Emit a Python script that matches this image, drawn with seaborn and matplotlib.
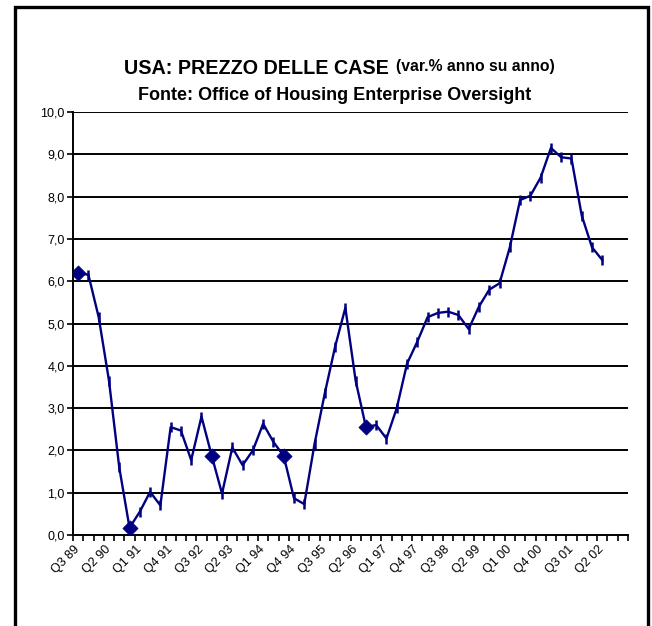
import numpy as np
import pandas as pd
import seaborn as sns
import matplotlib.pyplot as plt
from matplotlib.patches import Rectangle

# quarters from Q3 89 to Q4 02 (last two left empty, as in the original)
quarters = []
for yy in range(1989, 2003):
    for q in range(1, 5):
        if (yy == 1989 and q < 3):
            continue
        quarters.append(f"Q{q} {str(yy)[2:]}")

# y/y % change of house prices, Q3 89 -> Q2 02
values = [6.2, 6.15, 5.15, 3.65, 1.6, 0.17, 0.55, 1.02, 0.7, 2.55,
          2.47, 1.77, 2.8, 1.87, 0.98, 2.07, 1.65, 2.0, 2.63, 2.2,
          1.87, 0.87, 0.73, 2.15, 3.35, 4.45, 5.37, 3.65, 2.55, 2.6,
          2.28, 3.0, 4.05, 4.57, 5.15, 5.25, 5.28, 5.2, 4.87, 5.4,
          5.8, 5.95, 6.8, 7.92, 8.02, 8.45, 9.15, 8.93, 8.9, 7.55,
          6.8, 6.5]
diamond_idx = [0, 5, 13, 20, 28]

df = pd.DataFrame({"pos": np.arange(len(values)), "val": values,
                   "quarter": quarters[:len(values)]})
dia_df = df.iloc[diamond_idx]

navy = "#000080"
plt.rcParams['font.family'] = ['Liberation Sans', 'DejaVu Sans']

fig = plt.figure(figsize=(6.52, 6.26), dpi=100)
ax = fig.add_axes([73/652, 1 - 535/626, 555/652, 423/626])

sns.lineplot(data=df, x="pos", y="val", ax=ax, color=navy, linewidth=1.7,
             marker="|", markersize=7, markeredgewidth=1.8, markeredgecolor=navy)
sns.scatterplot(data=dia_df, x="pos", y="val", ax=ax, marker="D", s=60,
                color=navy, edgecolor=navy, linewidth=0.5, zorder=5)

n = len(quarters)
ax.set_xlim(-0.5, n - 0.5)
ax.set_ylim(0, 10)

yt = np.arange(0, 11)
ax.set_yticks(yt)
ax.set_yticklabels([f"{v:.1f}".replace(".", ",") for v in yt], fontsize=9)
for v in yt[1:]:
    ax.axhline(v, color="black", linewidth=1.4, zorder=1)

ax.set_xticks(np.arange(0, n, 3))
ax.set_xticklabels(quarters[::3], rotation=45, ha="right", va="center",
                   rotation_mode="anchor", fontsize=9)
ax.set_xticks(np.arange(-0.5, n, 1), minor=True)
ax.tick_params(axis="x", which="major", length=0, pad=9)
ax.tick_params(axis="x", which="minor", length=4, width=1.2, direction="out")
ax.tick_params(axis="y", length=4, width=1.2, direction="out", pad=2)

for s in ["top", "right"]:
    ax.spines[s].set_visible(False)
for s in ["left", "bottom"]:
    ax.spines[s].set_linewidth(1.4)
ax.set_xlabel("")
ax.set_ylabel("")

fig.text(389/652, 1 - 68/626, "USA: PREZZO DELLE CASE", ha="right", va="center",
         fontsize=14.2, fontweight="bold")
fig.text(396/652, 1 - 67/626, "(var.% anno su anno)", ha="left", va="center",
         fontsize=11.3, fontweight="bold")
fig.text(335/652, 1 - 96/626, "Fonte: Office of Housing Enterprise Oversight",
         ha="center", va="center", fontsize=13, fontweight="bold")

# outer frame
fig.patches.append(Rectangle((14.5/652, -0.05), 633/652, 1.05 - 6.5/626,
                             transform=fig.transFigure, fill=False,
                             edgecolor="black", linewidth=2.4))

fig.savefig("out.png", dpi=100)
